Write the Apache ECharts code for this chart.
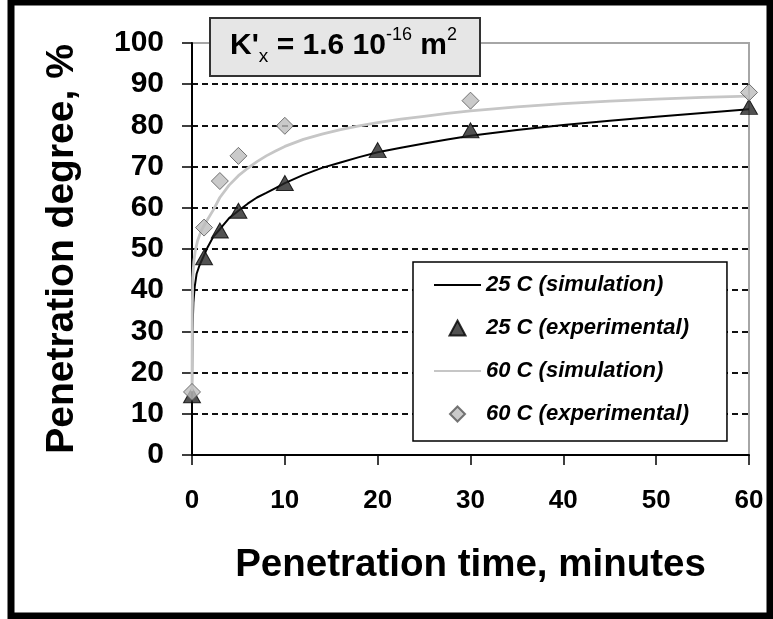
<!DOCTYPE html>
<html>
<head>
<meta charset="utf-8">
<script src="https://cdn.jsdelivr.net/npm/echarts@6/dist/echarts.min.js"></script>
<style>
html,body{margin:0;padding:0;background:#fff;}
#chart{width:773px;height:619px;}
</style>
</head>
<body>
<div id="chart"></div>
<script>
// ---- data ----
const simTime25 = [0, 0.05, 0.15, 0.3, 0.5, 0.8, 1.2, 1.7, 2.3, 3, 4, 5, 6, 7, 8, 9, 10, 12, 14, 16, 18, 20, 22.5, 25, 27.5, 30, 35, 40, 45, 50, 55, 60];
const simDegree25 = [15, 30, 37, 41, 44, 46, 48, 50.5, 53, 54.8, 57.5, 59.3, 61, 62.5, 63.6, 64.8, 66, 68, 69.7, 71, 72.3, 73.5, 74.6, 75.6, 76.6, 77.5, 78.9, 80.1, 81.1, 82.1, 83, 83.9];
const simTime60 = [0, 0.03, 0.08, 0.2, 0.35, 0.6, 1, 1.5, 2.3, 3, 4, 5, 6, 7, 8, 9, 10, 12, 14, 16, 18, 20, 22.5, 25, 27.5, 30, 35, 40, 45, 50, 55, 60];
const simDegree60 = [15.5, 35, 43, 47, 49.5, 52, 54.5, 56.5, 59.5, 62.5, 65.5, 67.8, 69.6, 71.2, 72.6, 73.8, 74.9, 76.6, 77.9, 79, 79.9, 80.7, 81.5, 82.2, 82.9, 83.5, 84.5, 85.3, 85.9, 86.4, 86.8, 87.1];
const expTime25 = [0, 1.3, 3, 5, 10, 20, 30, 60];
const expDegree25 = [14.5, 48, 54.5, 59.3, 66, 74, 78.8, 84.5];
const expTime60 = [0, 1.3, 3, 5, 10, 30, 60];
const expDegree60 = [15.3, 55.2, 66.5, 72.6, 79.9, 86, 88];
const seriesNames = ['25 C (simulation)', '25 C (experimental)', '60 C (simulation)', '60 C (experimental)'];
const xTitle = 'Penetration time, minutes';
const yTitle = 'Penetration degree, %';

const pairs = (xs, ys) => xs.map((x, i) => [x, ys[i]]);
const FONT = 'Liberation Sans, Arial, sans-serif';

// legend icons drawn in a 47x15 box (corner hairlines keep the box size)
const ICON_BOX = 'M0,0L0,0.01M47,15L47,14.99';
const triangleIcon = 'path://' + ICON_BOX + 'M23.5,0L31.5,15L15.5,15Z';
const diamondIcon = 'path://' + ICON_BOX + 'M23.5,0L31,7.5L23.5,15L16,7.5Z';

const chart = echarts.init(document.getElementById('chart'), null, {renderer: 'canvas'});
chart.setOption({
  animation: false,
  backgroundColor: '#fff',
  grid: {
    left: 192, right: 24, top: 43, bottom: 164,
    show: true, borderColor: '#a6a6a6', borderWidth: 2, backgroundColor: 'transparent'
  },
  xAxis: {
    type: 'value', min: 0, max: 60, interval: 10,
    name: xTitle, nameLocation: 'middle', nameGap: 91,
    nameTextStyle: {fontFamily: FONT, fontWeight: 'bold', fontSize: 38.5, color: '#000'},
    axisLine: {show: true, onZero: false, lineStyle: {color: '#000', width: 2}},
    axisTick: {show: true, length: 10, lineStyle: {color: '#000', width: 1.5}},
    axisLabel: {margin: 33, fontFamily: FONT, fontWeight: 'bold', fontSize: 26, color: '#000'},
    splitLine: {show: false}
  },
  yAxis: {
    type: 'value', min: 0, max: 100, interval: 10,
    name: yTitle, nameLocation: 'middle', nameGap: 110, nameRotate: 90,
    nameTextStyle: {fontFamily: FONT, fontWeight: 'bold', fontSize: 39, color: '#000'},
    axisLine: {show: true, onZero: false, lineStyle: {color: '#000', width: 2}},
    axisTick: {show: true, length: 10, lineStyle: {color: '#000', width: 1.5}},
    axisLabel: {margin: 28, fontFamily: FONT, fontWeight: 'bold', fontSize: 30, color: '#000'},
    splitLine: {show: true, showMinLine: false, showMaxLine: false,
      lineStyle: {color: '#111', width: 2, type: [6, 4]}}
  },
  legend: {
    orient: 'vertical', left: 413, top: 262,
    data: [
      {name: seriesNames[0], itemStyle: {opacity: 0}},
      {name: seriesNames[1], icon: triangleIcon},
      {name: seriesNames[2], itemStyle: {opacity: 0}},
      {name: seriesNames[3], icon: diamondIcon}
    ],
    itemWidth: 47, itemHeight: 15, itemGap: 21,
    padding: [12, 38, 16, 20],
    backgroundColor: '#fff', borderColor: '#000', borderWidth: 1.5,
    textStyle: {fontFamily: FONT, fontStyle: 'italic', fontWeight: 'bold', fontSize: 22, color: '#000'},
    z: 10
  },
  graphic: [
    {type: 'rect', z: 100, silent: true,
     shape: {x: 11, y: 2, width: 759, height: 614},
     style: {fill: 'none', stroke: '#000', lineWidth: 7}},
    {type: 'rect', z: 50,
     shape: {x: 210, y: 18, width: 270, height: 58},
     style: {fill: '#e6e6e6', stroke: '#333', lineWidth: 2}},
    {type: 'text', z: 51, left: 230, top: 26,
     style: {
       text: "{b|K'}{sub|x}{b| = 1.6 10}{sup|-16}{b| m}{sup|2}",
       rich: {
         b: {fontFamily: FONT, fontWeight: 'bold', fontSize: 30, color: '#000', lineHeight: 40},
         sub: {fontFamily: FONT, fontSize: 19, color: '#222', verticalAlign: 'bottom', lineHeight: 40},
         sup: {fontFamily: FONT, fontSize: 18, color: '#000', verticalAlign: 'top', lineHeight: 40}
       }
     }}
  ],
  series: [
    {name: seriesNames[0], type: 'line', data: pairs(simTime25, simDegree25),
     symbol: 'none', lineStyle: {color: '#000', width: 2}, itemStyle: {color: '#000'}, z: 2},
    {name: seriesNames[1], type: 'scatter', data: pairs(expTime25, expDegree25),
     symbol: 'triangle', symbolSize: [17, 15],
     itemStyle: {color: '#262626', borderColor: '#000', borderWidth: 1}, z: 3},
    {name: seriesNames[2], type: 'line', data: pairs(simTime60, simDegree60),
     symbol: 'none', lineStyle: {color: '#c6c6c6', width: 2.8}, itemStyle: {color: '#c6c6c6'}, z: 4},
    {name: seriesNames[3], type: 'scatter', data: pairs(expTime60, expDegree60),
     symbol: 'diamond', symbolSize: 17,
     itemStyle: {color: '#bdbdbd', borderColor: '#555', borderWidth: 1}, z: 5}
  ]
});
</script>
</body>
</html>
